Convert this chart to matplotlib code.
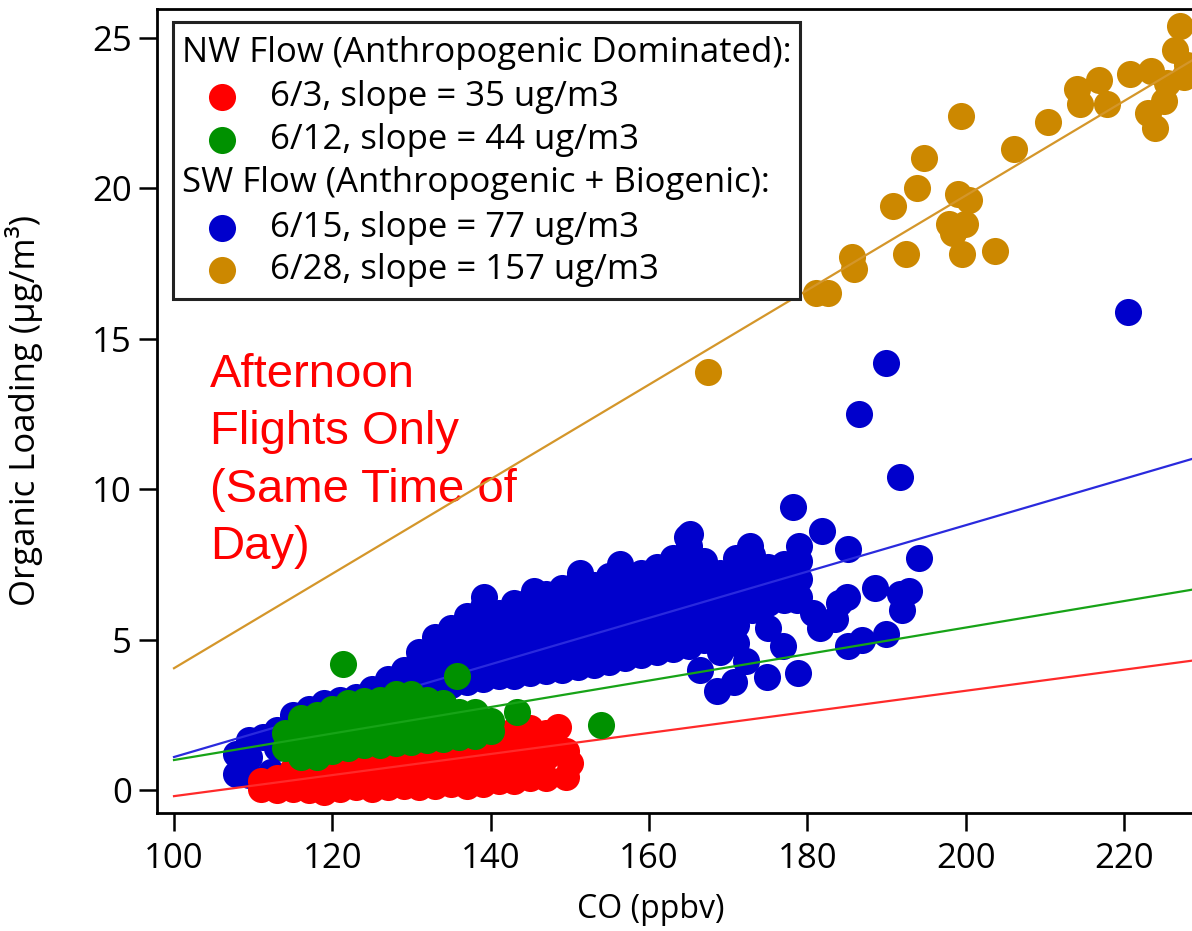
import matplotlib.pyplot as plt
from matplotlib.patches import Rectangle

plt.rcParams['font.family'] = ['Open Sans', 'DejaVu Sans']

# flight 6/3 (NW flow) - CO (ppbv) vs organic loading (ug/m3)
red_co = [111, 111, 113, 113, 115, 115, 115, 117, 117, 117, 119, 119, 119,
          121, 121, 121, 123, 123, 123, 125, 125, 125, 127, 127, 127,
          129, 129, 129, 131, 131, 131, 133, 133, 133, 135, 135, 135,
          137, 137, 137, 139, 139, 139, 141, 141, 141, 141, 143, 143, 143, 143,
          145, 145, 145, 145, 147, 147, 147, 147, 148.5, 149.5, 150, 149.5]
red_org = [0.05, 0.3, 0.0, 0.4, 0.05, 0.45, 0.7, 0.0, 0.4, 0.8, -0.05, 0.35, 0.8,
           0.05, 0.45, 0.9, 0.1, 0.5, 0.9, 0.05, 0.5, 1.0, 0.1, 0.55, 1.0,
           0.15, 0.6, 1.1, 0.1, 0.6, 1.1, 0.15, 0.65, 1.2, 0.2, 0.7, 1.2,
           0.15, 0.7, 1.3, 0.2, 0.75, 1.3, 0.3, 0.8, 1.4, 1.9, 0.3, 0.9, 1.5, 2.0,
           0.4, 1.0, 1.6, 2.05, 0.4, 1.1, 1.7, 1.9, 2.1, 0.45, 0.9, 1.3]

# flight 6/12 (NW flow)
green_co = [114, 114, 116, 116, 116, 116, 118, 118, 118, 118, 120, 120, 120, 120,
            122, 122, 122, 122, 124, 124, 124, 124, 126, 126, 126, 126,
            128, 128, 128, 128, 130, 130, 130, 130, 132, 132, 132, 132,
            134, 134, 134, 134, 136, 136, 136, 138, 138, 138, 140, 140,
            121.3, 135.7, 143.3, 154.0]
green_org = [1.4, 1.9, 1.1, 1.6, 2.1, 2.4, 1.1, 1.6, 2.1, 2.5, 1.3, 1.8, 2.3, 2.7,
             1.4, 1.9, 2.4, 2.9, 1.5, 2.0, 2.5, 2.95, 1.5, 2.0, 2.5, 3.0,
             1.55, 2.1, 2.6, 3.2, 1.6, 2.1, 2.6, 3.2, 1.65, 2.15, 2.65, 3.0,
             1.7, 2.2, 2.7, 2.9, 1.75, 2.2, 2.6, 1.8, 2.3, 2.6, 1.95, 2.3,
             4.2, 3.8, 2.6, 2.15]

# flight 6/15 (SW flow)
blue_co = [107.8, 107.8, 109.5, 109.5, 109.5, 111.2, 112.3, 113, 113,
           115, 115, 115, 117, 117, 117, 119, 119, 119, 121, 121, 121,
           123, 123, 123, 125, 125, 125, 127, 127, 127, 129, 129, 129,
           131, 131, 131, 131, 133, 133, 133, 133, 135, 135, 135, 135,
           137, 137, 137, 137, 137, 139, 139, 139, 139, 139, 139.2,
           141, 141, 141, 141, 141, 143, 143, 143, 143, 143,
           145, 145, 145, 145, 145, 145.5, 147, 147, 147, 147, 147,
           149, 149, 149, 149, 149, 149, 151, 151, 151, 151, 151, 151, 151.3,
           153, 153, 153, 153, 153, 153, 155, 155, 155, 155, 155, 155, 156.3,
           157, 157, 157, 157, 157, 157, 159, 159, 159, 159, 159, 159,
           161, 161, 161, 161, 161, 161, 163, 163, 163, 163, 163, 163,
           165, 165, 165, 165, 165, 165, 165, 164.8, 167, 167, 167, 167, 167, 167,
           169, 169, 169, 169, 169, 169, 171, 171, 171, 171, 171, 171,
           173, 173, 173, 173, 175, 175, 175, 177, 177, 177, 179, 179, 179,
           166.4, 168.6, 170.8, 172.3, 174.9, 175.0, 176.9, 178.8, 180.7, 181.6,
           178.7, 183.5, 184.0, 185.0, 186.9, 185.1, 188.5, 190.0, 191.7, 192.9,
           192.0, 194.1, 181.9, 185.1, 179.0, 172.7, 165.2, 178.2, 191.7, 186.5,
           190.0, 220.5]
blue_org = [0.55, 1.2, 0.5, 1.1, 1.65, 1.75, 0.6, 1.4, 2.0,
            1.5, 2.1, 2.5, 1.6, 2.2, 2.7, 1.8, 2.4, 2.9, 2.0, 2.6, 3.0,
            2.2, 2.7, 3.1, 2.4, 2.9, 3.35, 2.6, 3.1, 3.7, 2.9, 3.4, 4.0,
            3.2, 3.8, 4.3, 4.6, 3.4, 4.0, 4.6, 5.1, 3.5, 4.1, 4.7, 5.4,
            3.6, 4.2, 4.8, 5.4, 5.8, 3.7, 4.3, 4.9, 5.5, 6.1, 6.4,
            3.8, 4.4, 5.0, 5.5, 5.9, 3.8, 4.4, 5.0, 5.6, 6.2,
            3.9, 4.5, 5.1, 5.7, 6.3, 6.6, 3.95, 4.6, 5.2, 5.8, 6.5,
            4.0, 4.6, 5.2, 5.8, 6.4, 6.7, 4.1, 4.7, 5.3, 5.9, 6.5, 6.9, 7.2,
            4.15, 4.8, 5.4, 6.0, 6.5, 6.8, 4.25, 4.9, 5.5, 6.1, 6.7, 7.1, 7.5,
            4.4, 5.0, 5.6, 6.2, 6.8, 7.1, 4.5, 5.1, 5.7, 6.3, 6.9, 7.2,
            4.6, 5.2, 5.8, 6.4, 7.0, 7.4, 4.7, 5.3, 5.9, 6.5, 7.1, 7.7,
            4.8, 5.4, 6.0, 6.6, 7.2, 7.8, 8.1, 8.4, 5.0, 5.6, 6.2, 6.8, 7.4, 7.6,
            4.6, 5.2, 5.8, 6.4, 7.0, 7.2, 4.9, 5.5, 6.1, 6.7, 7.3, 7.7,
            6.0, 6.6, 7.2, 7.8, 6.2, 6.8, 7.4, 6.3, 6.9, 7.5, 6.4, 7.0, 7.6,
            4.0, 3.3, 3.6, 4.3, 3.75, 5.4, 4.8, 3.9, 5.9, 5.4,
            6.3, 5.7, 6.2, 6.4, 5.0, 4.8, 6.7, 5.2, 6.5, 6.6,
            6.0, 7.7, 8.6, 8.0, 8.1, 8.1, 8.5, 9.4, 10.4, 12.5,
            14.2, 15.9]

# flight 6/28 (SW flow)
orange_co = [167.5, 181.1, 182.6, 185.6, 185.9, 192.5, 190.8, 193.8, 194.8,
             199.4, 199.1, 200.4, 197.9, 199.9, 198.4, 199.6, 203.7, 206.1,
             210.4, 214.1, 214.4, 216.9, 217.9, 220.8, 223.4, 223.1, 223.9,
             225.1, 225.4, 226.4, 227.1, 227.6, 228.0]
orange_org = [13.9, 16.5, 16.5, 17.7, 17.3, 17.8, 19.4, 20.0, 21.0,
              22.4, 19.8, 19.6, 18.8, 18.8, 18.5, 17.8, 17.9, 21.3,
              22.2, 23.3, 22.8, 23.6, 22.8, 23.8, 23.9, 22.5, 22.0,
              22.9, 23.5, 24.6, 25.4, 23.7, 24.1]

# linear fits: value at CO = 100 ppbv and slope (ug/m3 per ppbv)
fit_start = [-0.2, 1.0, 1.1, 4.05]
fit_slope = [0.035, 0.044, 0.077, 0.157]

labels = ['6/3, slope = 35 ug/m3', '6/12, slope = 44 ug/m3',
          '6/15, slope = 77 ug/m3', '6/28, slope = 157 ug/m3']
point_colors = ['#FF0000', '#009100', '#0000CC', '#CC8800']
line_colors = ['#FF2A2A', '#17A317', '#2A2ADD', '#D4962A']

fig = plt.figure(figsize=(11.92, 9.31), dpi=100)
ax = fig.add_axes([157 / 1192, 118 / 931, 1035 / 1192, 804 / 931])

xlim = (97.85, 228.6)
ylim = (-0.76, 25.95)

series = [(red_co, red_org), (green_co, green_org), (blue_co, blue_org), (orange_co, orange_org)]
# draw order: orange, blue, red, green (green on top)
zorders = [4, 5, 3, 2]
for i, (xs, ys) in enumerate(series):
    ax.scatter(xs, ys, s=380, color=point_colors[i], linewidths=0, zorder=zorders[i])
    x0, x1 = 100, xlim[1] + 2
    ax.plot([x0, x1], [fit_start[i], fit_start[i] + fit_slope[i] * (x1 - x0)],
            color=line_colors[i], lw=1.6, zorder=zorders[i] + 0.5)

ax.set_xlim(*xlim)
ax.set_ylim(*ylim)
ax.set_xticks([100, 120, 140, 160, 180, 200, 220])
ax.set_yticks([0, 5, 10, 15, 20, 25])
ax.spines['right'].set_visible(False)
for s in ['left', 'bottom', 'top']:
    ax.spines[s].set_linewidth(2.0)
ax.tick_params(direction='out', length=13, width=1.8, labelsize=25, pad=8)
ax.tick_params(axis='y', pad=5)

ax.set_xlabel('CO (ppbv)', fontsize=23)
ax.xaxis.set_label_coords(0.477, -0.1)
ax.set_ylabel('Organic Loading (µg/m³)', fontsize=25)
ax.yaxis.set_label_coords(-0.11, 0.5)

ax.text(0.0512, 0.572, 'Afternoon\nFlights Only\n(Same Time of\nDay)', transform=ax.transAxes,
        ha='left', va='top', fontsize=34, color='#FF0000', family='Liberation Sans',
        linespacing=1.39, zorder=1)

# legend box drawn by hand to get the header rows flush left
def ax_x(px):
    return (px - 157) / 1035


def ax_y(py):
    return (813 - py) / 804


ax.add_patch(Rectangle((ax_x(173), ax_y(299)), ax_x(800) - ax_x(173), ax_y(22) - ax_y(299),
                       transform=ax.transAxes, facecolor='white', edgecolor='#222222',
                       lw=2.2, zorder=20, clip_on=False))
rows = [53, 97, 140, 183, 228, 270]
ax.text(ax_x(182), ax_y(rows[0]), 'NW Flow (Anthropogenic Dominated):', transform=ax.transAxes,
        va='center', ha='left', fontsize=25, zorder=21)
ax.text(ax_x(182), ax_y(rows[3]), 'SW Flow (Anthropogenic + Biogenic):', transform=ax.transAxes,
        va='center', ha='left', fontsize=25, zorder=21)
for i, r in enumerate([rows[1], rows[2], rows[4], rows[5]]):
    ax.scatter([ax_x(222)], [ax_y(r)], s=380, color=point_colors[i], linewidths=0,
               transform=ax.transAxes, zorder=21, clip_on=False)
    ax.text(ax_x(270), ax_y(r), labels[i], transform=ax.transAxes,
            va='center', ha='left', fontsize=25, zorder=21)

fig.savefig('out.png', dpi=100)
